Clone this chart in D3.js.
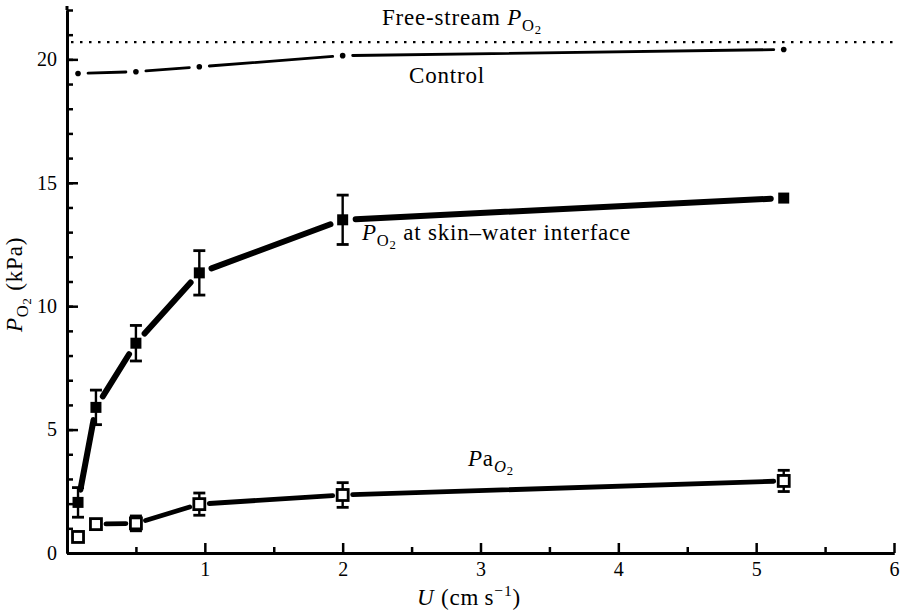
<!DOCTYPE html>
<html>
<head>
<meta charset="utf-8">
<script src="https://cdn.jsdelivr.net/npm/d3@7"></script>
<style>
  body { margin: 0; background: #fff; }
  svg { font-family: "Liberation Serif", "DejaVu Serif", serif; }
</style>
</head>
<body>
<div id="chart"></div>
<script>
// data
const speeds = [0.08, 0.21, 0.5, 0.96, 2.0, 5.2];
const interfacePO2 = [2.05, 5.9, 8.5, 11.35, 13.5, 14.38];
const interfaceErr = [0.6, 0.7, 0.72, 0.9, 1.0, 0];
const arterialPO2 = [0.65, 1.17, 1.2, 1.98, 2.35, 2.92];
const arterialErr = [0, 0, 0.3, 0.45, 0.5, 0.43];
const controlPO2 = [19.43, 19.5, 19.7, 20.15, 20.4];
const controlSpeeds = [0.08, 0.5, 0.96, 2.0, 5.2];
const freeStream = 20.7;
const xTicks = [1, 2, 3, 4, 5, 6];
const yTicks = [0, 5, 10, 15, 20];

const width = 902, height = 616;
const svg = d3.select("#chart").append("svg")
    .attr("width", width)
    .attr("height", height);

const x = d3.scaleLinear().domain([0, 6]).range([67, 894]);
const y = d3.scaleLinear().domain([0, 22]).range([553, 10]);

// axes
const yAxis = d3.axisLeft(y).tickValues(yTicks).tickSizeInner(-11).tickSizeOuter(0)
    .tickPadding(10).tickFormat(d3.format("d"));
const yMinor = d3.axisLeft(y).tickValues(d3.range(0, 23, 1)).tickSizeInner(-6).tickSizeOuter(0).tickFormat("");
const xAxis = d3.axisBottom(x).tickValues(xTicks).tickSizeInner(-10).tickSizeOuter(0)
    .tickPadding(9).tickFormat(d3.format("d"));
const xMinor = d3.axisBottom(x).tickValues(d3.range(0.5, 6, 1)).tickSizeInner(-6).tickSizeOuter(0).tickFormat("");

function styleAxis(g) {
    g.attr("font-family", null).attr("font-size", null);
    g.select(".domain").attr("stroke", "#000").attr("stroke-width", 3);
    g.selectAll(".tick line").attr("stroke", "#000").attr("stroke-width", 2.5);
    g.selectAll(".tick text").attr("fill", "#000").attr("font-size", 20);
}

svg.append("g").attr("transform", `translate(${x(0)},0)`).call(yMinor).call(styleAxis);
svg.append("g").attr("transform", `translate(${x(0)},0)`).call(yAxis).call(styleAxis);
svg.append("g").attr("transform", `translate(0,${y(0)})`).call(xMinor).call(styleAxis);
svg.append("g").attr("transform", `translate(0,${y(0)})`).call(xAxis).call(styleAxis);

// extend y axis to top
svg.append("line")
    .attr("x1", x(0)).attr("x2", x(0))
    .attr("y1", y(22)).attr("y2", y(22) - 4)
    .attr("stroke", "#000").attr("stroke-width", 3);

// free-stream dotted line
svg.append("line")
    .attr("x1", x(0) + 4).attr("x2", x(6))
    .attr("y1", y(freeStream)).attr("y2", y(freeStream))
    .attr("stroke", "#000").attr("stroke-width", 2.4)
    .attr("stroke-dasharray", "2.5,6.5");

// segments between points, broken near each marker
function gappedSegments(xs, ys, gap) {
    const segs = [];
    for (let i = 0; i < xs.length - 1; i++) {
        const x1 = x(xs[i]), y1 = y(ys[i]), x2 = x(xs[i + 1]), y2 = y(ys[i + 1]);
        const len = Math.hypot(x2 - x1, y2 - y1);
        if (len < gap * 2 + 3) continue;
        const ux = (x2 - x1) / len, uy = (y2 - y1) / len;
        segs.push([x1 + ux * gap, y1 + uy * gap, x2 - ux * gap, y2 - uy * gap]);
    }
    return segs;
}

function drawSegments(segs, w) {
    svg.append("g").selectAll("line").data(segs).enter().append("line")
        .attr("x1", d => d[0]).attr("y1", d => d[1])
        .attr("x2", d => d[2]).attr("y2", d => d[3])
        .attr("stroke", "#000").attr("stroke-width", w)
        .attr("stroke-linecap", "round");
}

drawSegments(gappedSegments(controlSpeeds, controlPO2, 10), 2.8);
drawSegments(gappedSegments(speeds, interfacePO2, 13), 6);
drawSegments(gappedSegments(speeds, arterialPO2, 10), 4.8);

// error bars
function errorBars(vals, errs) {
    const g = svg.append("g").attr("stroke", "#000").attr("stroke-width", 2.4);
    speeds.forEach((s, i) => {
        if (!errs[i]) return;
        const cx = x(s);
        g.append("line").attr("x1", cx).attr("x2", cx)
            .attr("y1", y(vals[i] - errs[i])).attr("y2", y(vals[i] + errs[i]));
        [vals[i] - errs[i], vals[i] + errs[i]].forEach(v => {
            g.append("line").attr("x1", cx - 6).attr("x2", cx + 6)
                .attr("y1", y(v)).attr("y2", y(v)).attr("stroke-width", 2.8);
        });
    });
}
errorBars(interfacePO2, interfaceErr);
errorBars(arterialPO2, arterialErr);

// markers
svg.append("g").selectAll("rect").data(speeds).enter().append("rect")
    .attr("x", d => x(d) - 5.5).attr("y", (d, i) => y(interfacePO2[i]) - 5.5)
    .attr("width", 11).attr("height", 11).attr("fill", "#000");

svg.append("g").selectAll("rect").data(speeds).enter().append("rect")
    .attr("x", d => x(d) - 5.5).attr("y", (d, i) => y(arterialPO2[i]) - 5.5)
    .attr("width", 11).attr("height", 11)
    .attr("fill", "#fff").attr("stroke", "#000").attr("stroke-width", 2.8);

svg.append("g").selectAll("circle").data(controlSpeeds).enter().append("circle")
    .attr("cx", d => x(d)).attr("cy", (d, i) => y(controlPO2[i]))
    .attr("r", 2.8).attr("fill", "#000");

// labels
function po2Label(sel, prefix) {
    sel.append("tspan").attr("font-style", "italic").text(prefix);
    sel.append("tspan").attr("font-size", "0.72em").attr("dy", 6).text("O");
    sel.append("tspan").attr("font-size", "0.55em").attr("dy", 3).text("2");
    return sel;
}

const labelSize = 23, spacing = 0.8;

const t1 = svg.append("text").attr("x", 382).attr("y", 25)
    .attr("font-size", labelSize).attr("letter-spacing", spacing);
t1.append("tspan").text("Free-stream ");
po2Label(t1, "P");

svg.append("text").attr("x", 409).attr("y", 83)
    .attr("font-size", labelSize).attr("letter-spacing", spacing).text("Control");

const t2 = svg.append("text").attr("x", 362).attr("y", 240)
    .attr("font-size", labelSize).attr("letter-spacing", spacing);
po2Label(t2, "P");
t2.append("tspan").attr("dy", -9).text(" at skin\u2013water interface");

const t3 = svg.append("text").attr("x", 468).attr("y", 466)
    .attr("font-size", labelSize).attr("letter-spacing", spacing);
t3.append("tspan").attr("font-style", "italic").text("P");
t3.append("tspan").text("a");
t3.append("tspan").attr("font-size", "0.72em").attr("dy", 6).attr("font-style", "italic").text("O");
t3.append("tspan").attr("font-size", "0.55em").attr("dy", 3).text("2");

const xl = svg.append("text").attr("x", 417).attr("y", 605)
    .attr("font-size", labelSize).attr("letter-spacing", spacing);
xl.append("tspan").attr("font-style", "italic").text("U");
xl.append("tspan").text(" (cm\u2009s");
xl.append("tspan").attr("font-size", "0.68em").attr("dy", -9).text("\u22121");
xl.append("tspan").attr("dy", 9).text(")");

const yl = svg.append("text")
    .attr("transform", "translate(22,332) rotate(-90)")
    .attr("font-size", labelSize).attr("letter-spacing", spacing);
po2Label(yl, "P");
yl.append("tspan").attr("dy", -9).text(" (kPa)");
</script>
</body>
</html>
